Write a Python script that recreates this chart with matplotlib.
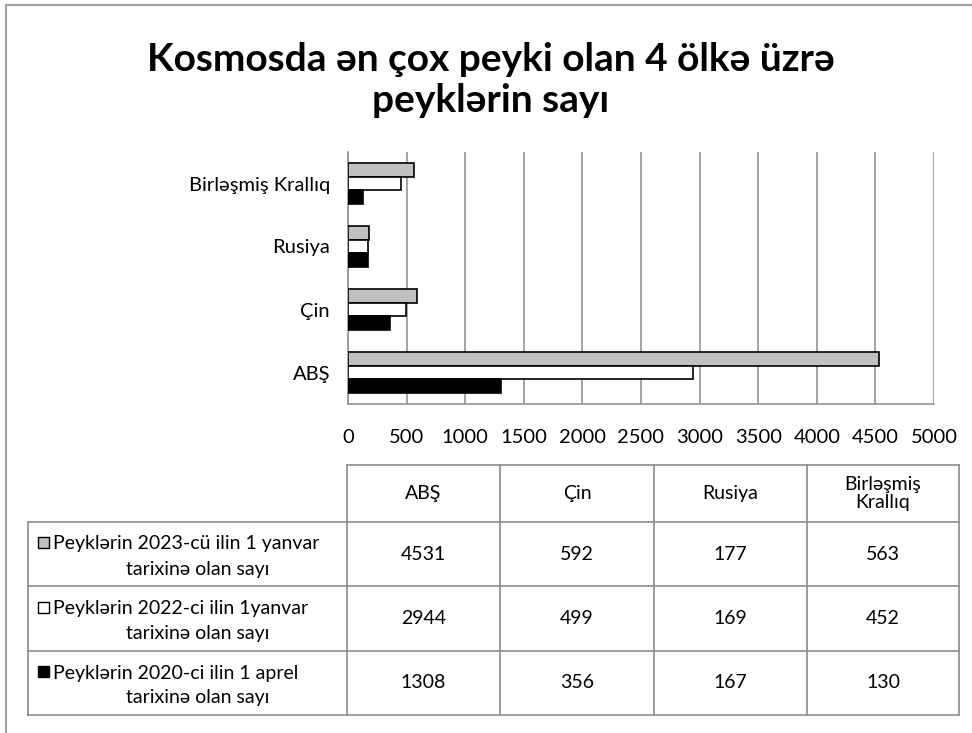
import numpy as np
import matplotlib.pyplot as plt
from matplotlib.patches import Rectangle

plt.rcParams['font.family'] = ['Lato', 'DejaVu Sans']

# data
countries = ['ABŞ', 'Çin', 'Rusiya', 'Birləşmiş Krallıq']
header_labels = ['ABŞ', 'Çin', 'Rusiya', 'Birləşmiş\nKrallıq']
sats_2023 = [4531, 592, 177, 563]
sats_2022 = [2944, 499, 169, 452]
sats_2020 = [1308, 356, 167, 130]
series_names = ['Peyklərin 2023-cü ilin 1 yanvar\ntarixinə olan sayı',
                'Peyklərin 2022-ci ilin 1yanvar\ntarixinə olan sayı',
                'Peyklərin 2020-ci ilin 1 aprel\ntarixinə olan sayı']
series_colors = ['#c0c0c0', 'white', 'black']
x_ticks = [0, 500, 1000, 1500, 2000, 2500, 3000, 3500, 4000, 4500, 5000]

W, H = 972, 733
fig = plt.figure(figsize=(W / 100, H / 100), dpi=100)

# overlay in pixel coordinates for frame and table
ov = fig.add_axes([0, 0, 1, 1])
ov.set_xlim(0, W)
ov.set_ylim(H, 0)
ov.axis('off')

# outer frame (top and left visible)
ov.plot([6, 6], [5, H], color='#a0a0a0', lw=1.5)
ov.plot([6, W], [5, 5], color='#a0a0a0', lw=1.5)

# title
fig.text(491 / W, 1 - 80 / H, 'Kosmosda ən çox peyki olan 4 ölkə üzrə\npeyklərin sayı',
         ha='center', va='center', fontsize=28, fontweight='bold', linespacing=1.2)

# bar chart
ax = fig.add_axes([348 / W, 1 - 404 / H, (934 - 348) / W, (404 - 152) / H])
ypos = np.arange(len(countries))
h = 0.22
series = [sats_2023, sats_2022, sats_2020]
offsets = [h, 0, -h]
for vals, col, off in zip(series, series_colors, offsets):
    ax.barh(ypos + off, vals, height=h, color=col, edgecolor='black', linewidth=1.2, zorder=3)

ax.set_xlim(0, 5000)
ax.set_ylim(-0.5, len(countries) - 0.5)
ax.set_xticks(x_ticks)
ax.set_xticklabels([str(t) for t in x_ticks], fontsize=14.5)
ax.set_yticks(ypos)
ax.set_yticklabels(countries, fontsize=14.5)
ax.tick_params(axis='x', length=0, pad=18)
ax.tick_params(axis='y', length=0, pad=13)
ax.grid(axis='x', color='#8c8c8c', linewidth=1.1, zorder=0)
for s in ['top', 'right']:
    ax.spines[s].set_visible(False)
for s in ['left', 'bottom']:
    ax.spines[s].set_color('#8c8c8c')
    ax.spines[s].set_linewidth(1.1)

# data table
cols = [347, 500, 654, 807, 959]
rows = [465, 522, 586, 651, 715]
label_left = 28
lc = '#8c8c8c'
fs = 14
ov.plot([cols[0], cols[-1]], [rows[0], rows[0]], color=lc, lw=1.2)
for r in rows[1:]:
    ov.plot([label_left, cols[-1]], [r, r], color=lc, lw=1.2)
for c in cols:
    ov.plot([c, c], [rows[0], rows[-1]], color=lc, lw=1.2)
ov.plot([label_left, label_left], [rows[1], rows[-1]], color=lc, lw=1.2)

for j, lab in enumerate(header_labels):
    ov.text((cols[j] + cols[j + 1]) / 2, (rows[0] + rows[1]) / 2, lab,
            ha='center', va='center', fontsize=fs, linespacing=1.1)

for i, (name, vals, col) in enumerate(zip(series_names, series, series_colors)):
    top, bot = rows[i + 1], rows[i + 2]
    mid = (top + bot) / 2
    line1, line2 = name.split('\n')
    ov.add_patch(Rectangle((38, mid - 17), 11, 11, facecolor=col, edgecolor='black', lw=1))
    ov.text(53, mid - 10, line1, ha='left', va='center', fontsize=fs)
    ov.text((label_left + cols[0]) / 2 + 10, mid + 15, line2, ha='center', va='center', fontsize=fs)
    for j, v in enumerate(vals):
        ov.text((cols[j] + cols[j + 1]) / 2, mid, str(v), ha='center', va='center', fontsize=fs)

fig.savefig('out.png', dpi=100)
